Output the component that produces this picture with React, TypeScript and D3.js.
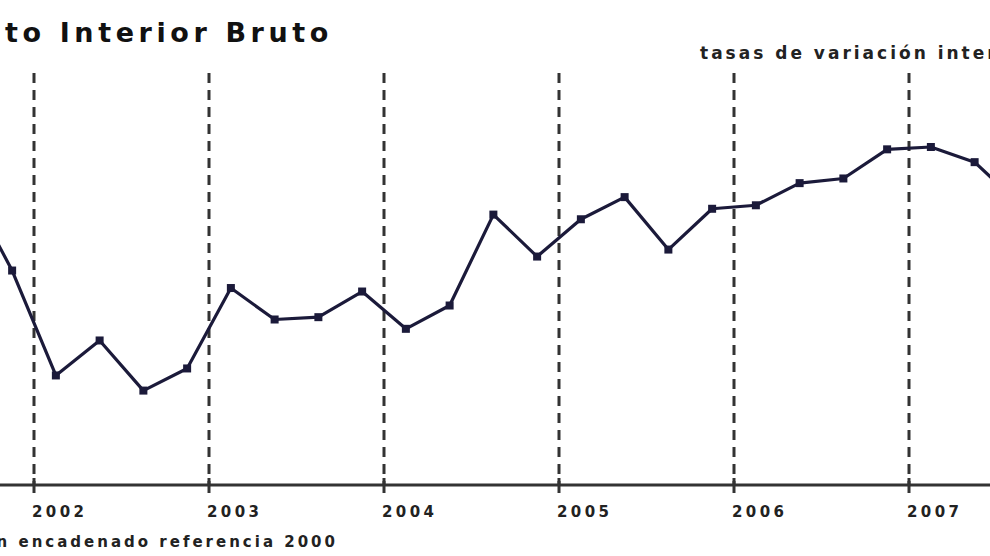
import React from 'react';
import * as d3 from 'd3';

// quarterly year-on-year growth, %
const quarters = [
  '2001T3', '2001T4',
  '2002T1', '2002T2', '2002T3', '2002T4',
  '2003T1', '2003T2', '2003T3', '2003T4',
  '2004T1', '2004T2', '2004T3', '2004T4',
  '2005T1', '2005T2', '2005T3', '2005T4',
  '2006T1', '2006T2', '2006T3', '2006T4',
  '2007T1', '2007T2', '2007T3',
];
const growth = [
  3.75, 3.04,
  2.14, 2.44, 2.01, 2.2,
  2.89, 2.62, 2.64, 2.86,
  2.54, 2.74, 3.52, 3.16,
  3.48, 3.67, 3.22, 3.57,
  3.6, 3.79, 3.83, 4.08,
  4.1, 3.97, 3.62,
];
const years = [2002, 2003, 2004, 2005, 2006, 2007];

const W = 990;
const H = 556;
const ink = '#1b1a3a';

const App = () => {
  const x = d3.scaleLinear().domain([2002, 2007]).range([34, 909]);
  const y = d3.scaleLinear().domain([1.2, 4.1]).range([485, 147]);

  // quarter markers sit in the middle of each quarter
  const pos = (q: string) => {
    const yr = +q.slice(0, 4);
    const n = +q.slice(5);
    return yr + (n - 0.5) / 4;
  };

  const pts = quarters.map((q, i) => ({ q, v: growth[i] }));
  const line = d3.line<{ q: string; v: number }>()
    .x(d => x(pos(d.q)))
    .y(d => y(d.v));

  return (
    <svg width={W} height={H} style={{ position: 'absolute', left: 0, top: 0, background: '#fff' }}>
      <rect width={W} height={H} fill="#fff" />
      <text x={333} y={42} textAnchor="end" fontFamily="DejaVu Sans" fontWeight="bold"
        fontSize={27} letterSpacing={4.6} fill="#111">Producto Interior Bruto</text>
      <text x={700} y={59} fontFamily="DejaVu Sans" fontSize={17} letterSpacing={3}
        fontWeight="bold" fill="#222">tasas de variación interanual</text>

      {years.map(yr => (
        <line key={yr} x1={x(yr)} x2={x(yr)} y1={73} y2={485}
          stroke="#333" strokeWidth={3} strokeDasharray="10 7" />
      ))}

      <line x1={0} x2={W} y1={485} y2={485} stroke="#333" strokeWidth={3} />
      {years.map(yr => (
        <g key={'t' + yr}>
          <line x1={x(yr)} x2={x(yr)} y1={478} y2={493} stroke="#333" strokeWidth={3} />
          <text x={x(yr) - 2} y={517} fontFamily="DejaVu Sans" fontWeight="bold" fontSize={15}
            letterSpacing={3.4} fill="#222">{yr}</text>
        </g>
      ))}

      <path d={line(pts) || ''} fill="none" stroke={ink} strokeWidth={3.2} strokeLinejoin="round" />
      {pts.map(d => (
        <rect key={d.q} x={x(pos(d.q)) - 4} y={y(d.v) - 4} width={8} height={8} fill={ink} />
      ))}

      <text x={338} y={547} textAnchor="end" fontFamily="DejaVu Sans" fontWeight="bold"
        fontSize={15} letterSpacing={3} fill="#222">Volumen encadenado referencia 2000</text>
    </svg>
  );
};

export default App;
